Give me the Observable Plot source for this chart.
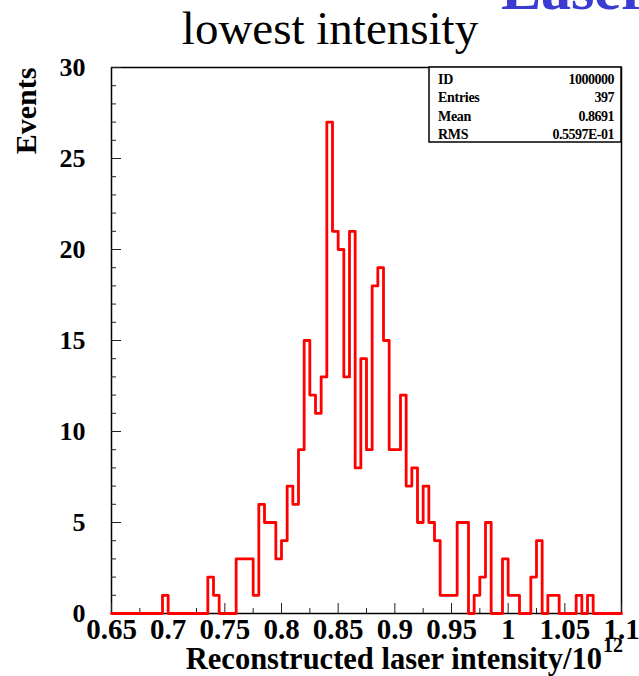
<!DOCTYPE html>
<html><head><meta charset="utf-8">
<script src="https://cdn.jsdelivr.net/npm/d3@7"></script>
<script src="https://cdn.jsdelivr.net/npm/@observablehq/plot@0.6"></script>
<style>body{margin:0;background:#fff}#chart{width:639px;height:676px}</style>
</head><body><div id="chart"></div>
<script>
// Histogram definition: 90 bins of width 0.005 from 0.65 to 1.1
const binLow = 0.65;
const binWidth = 0.005;
const counts = [
  0,0,0,0,0,0,0,0,0,1,
  0,0,0,0,0,0,0,2,1,0,
  0,0,3,3,3,1,6,5,5,3,
  4,7,6,9,15,12,11,13,27,21,
  20,13,21,8,14,9,18,19,15,9,
  9,12,7,8,5,7,5,4,1,1,
  1,5,5,0,1,2,5,0,0,3,
  1,1,0,0,2,4,0,1,1,0,
  0,0,1,0,1,0,0,0,0,0
];
const xMajorTicks = [0.65,0.7,0.75,0.8,0.85,0.9,0.95,1.0,1.05,1.1];
const xTickLabels = ["0.65","0.7","0.75","0.8","0.85","0.9","0.95","1","1.05","1.1"];
const xMinorTicks = [0.675,0.725,0.775,0.825,0.875,0.925,0.975,1.025,1.075];
const yMajorTicks = [0,5,10,15,20,25,30];
const yTickLabels = ["0","5","10","15","20","25","30"];
const yMinorTicks = [1,2,3,4,6,7,8,9,11,12,13,14,16,17,18,19,21,22,23,24,26,27,28,29];
const statsLabels = ["ID","Entries","Mean","RMS"];
const statsValues = ["1000000","397","0.8691","0.5597E-01"];
const title = "lowest intensity";
const topTitle = "Laser";
const yTitle = "Events";
const xTitle = "Reconstructed laser intensity/10";
const xTitleSup = "12";

const points = counts.map((c, i) => ({x: binLow + i * binWidth, y: c}));
points.push({x: binLow + counts.length * binWidth, y: counts[counts.length - 1]});

const W = 639, H = 676, mL = 111, mR = 18, mT = 67, mB = 63;
const plotW = W - mL - mR, plotH = H - mT - mB;
const serif = "'Liberation Serif','Times New Roman',Times,serif";

const plot = Plot.plot({
  width: W, height: H,
  marginLeft: mL, marginRight: mR, marginTop: mT, marginBottom: mB,
  x: {domain: [0.65, 1.1], axis: null},
  y: {domain: [0, 30], axis: null},
  style: {fontFamily: serif, background: "white", color: "black"},
  marks: [
    Plot.frame({stroke: "#000", strokeWidth: 1.5}),
    Plot.ruleX(xMinorTicks, {stroke: "#222", strokeWidth: 1, insetTop: plotH - 5}),
    Plot.ruleX(xMajorTicks, {stroke: "#222", strokeWidth: 1, insetTop: plotH - 10}),
    Plot.ruleY(yMinorTicks, {stroke: "#222", strokeWidth: 1, insetRight: plotW - 5}),
    Plot.ruleY(yMajorTicks, {stroke: "#222", strokeWidth: 1, insetRight: plotW - 10}),
    Plot.line(points, {x: "x", y: "y", curve: "step-after", stroke: "#ff0000", strokeWidth: 2.8}),
    Plot.text(xMajorTicks, {x: d => d, text: (d, i) => xTickLabels[i], frameAnchor: "bottom",
      lineAnchor: "top", dy: 5, fontSize: 29, fontWeight: "bold", fill: "black"}),
    Plot.text(yMajorTicks, {y: d => d, text: (d, i) => yTickLabels[i], frameAnchor: "left",
      textAnchor: "end", dx: -26, fontSize: 26, fontWeight: "bold", fill: "black"})
  ]
});

const svg = d3.select(plot);
svg.append("text").attr("x", 330).attr("y", 44).attr("text-anchor", "middle")
  .attr("font-family", serif).attr("font-size", 47).attr("fill", "black").text(title);
svg.append("text").attr("x", 501).attr("y", 9).attr("text-anchor", "start")
  .attr("font-family", serif).attr("font-size", 60).attr("font-weight", "bold")
  .attr("fill", "#3b3bd1").text(topTitle);
svg.append("text").attr("transform", "translate(36,111) rotate(-90)").attr("text-anchor", "middle")
  .attr("font-family", serif).attr("font-size", 30).attr("font-weight", "bold").attr("fill", "black").text(yTitle);
svg.append("text").attr("x", 602).attr("y", 669).attr("text-anchor", "end")
  .attr("font-family", serif).attr("font-size", 30.5).attr("font-weight", "bold").attr("fill", "black").text(xTitle);
svg.append("text").attr("x", 603).attr("y", 652).attr("text-anchor", "start")
  .attr("font-family", serif).attr("font-size", 20).attr("font-weight", "bold").attr("fill", "black").text(xTitleSup);

// statistics box
const bx = 429, by = mT, bw = W - mR - bx, bh = 142 - mT;
svg.append("rect").attr("x", bx).attr("y", by).attr("width", bw).attr("height", bh)
  .attr("fill", "white").attr("stroke", "black").attr("stroke-width", 1.5);
const rowY = [84, 102, 121, 139];
statsLabels.forEach((l, i) => {
  svg.append("text").attr("x", bx + 9).attr("y", rowY[i]).attr("text-anchor", "start").attr("font-family", serif)
    .attr("font-size", 14).attr("font-weight", "bold").attr("letter-spacing", -0.3).attr("fill", "black").text(l);
  svg.append("text").attr("x", W - mR - 7).attr("y", rowY[i]).attr("text-anchor", "end").attr("font-family", serif)
    .attr("font-size", 14).attr("font-weight", "bold").attr("letter-spacing", -0.5).attr("fill", "black").text(statsValues[i]);
});

document.getElementById("chart").appendChild(plot);
</script>
</body></html>
